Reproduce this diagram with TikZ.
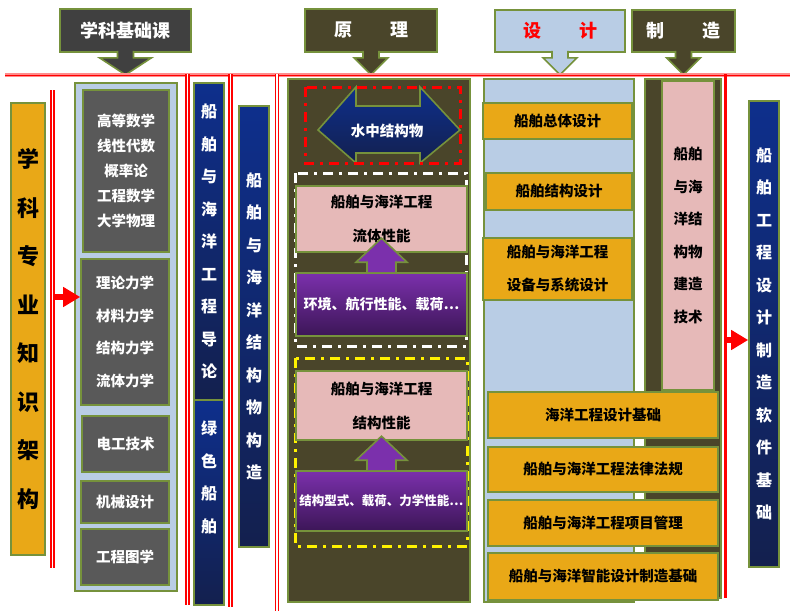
\documentclass[tikz,border=0pt]{standalone}
\usepackage{fontspec}
\setmainfont{Noto Sans CJK SC}
\usetikzlibrary{calc,arrows.meta}
\usepackage{xcolor}

\definecolor{olivebd}{HTML}{76923C}
\definecolor{darkol}{HTML}{4A452A}
\definecolor{hdgray}{HTML}{404040}
\definecolor{boxgray}{HTML}{595959}
\definecolor{lblue}{HTML}{B9CDE5}
\definecolor{orng}{HTML}{E9A817}
\definecolor{pinkb}{HTML}{E6B9B8}
\definecolor{navytop}{HTML}{0E2F8C}
\definecolor{navybot}{HTML}{13204E}
\definecolor{purtop}{HTML}{7B30AC}
\definecolor{purbot}{HTML}{3C1657}

\tikzset{
  box/.style={draw=olivebd, line width=1.6pt, inner sep=0pt, align=center},
  shp/.style={draw=olivebd, line width=1.6pt},
  hdbox/.style={box, text=white, font=\bfseries\fontsize{18}{20}\selectfont},
  graybox/.style={box, fill=boxgray, text=white, font=\bfseries\fontsize{14.5}{#1}\selectfont},
  graybox/.default=25,
  navybox/.style={box, top color=navytop, bottom color=navybot, text=white, font=\bfseries\fontsize{16}{32.5}\selectfont},
  orangebox/.style={box, fill=orng, text=black, font=\bfseries\fontsize{14.5}{33}\selectfont},
  pinkbox/.style={box, fill=pinkb, text=black, font=\bfseries\fontsize{14.5}{#1}\selectfont},
  pinkbox/.default=34,
  purplebox/.style={box, top color=purtop, bottom color=purbot, text=white, font=\bfseries\fontsize{14}{16}\selectfont},
  colbox/.style={box, fill=#1},
  redvline/.style={draw=red, line width=1.4pt, double=white, double distance=1.4pt},
  redarr/.style={red, line width=6.5pt, -{Triangle[length=17pt,width=19pt]}},
  dashdot/.style={line width=3pt, dash pattern=on 10pt off 6pt on 3pt off 6pt}
}

% arrow under a header box: node, fill, half width of head
\newcommand\hdarrow[3]{\draw[shp, fill=#2] ($(#1.south)+(-8,-2)$) -- ($(#1.south)+(-8,5)$) -- ($(#1.south)+(-#3,5)$) -- ($(#1.south)+(0,22)$) -- ($(#1.south)+(#3,5)$) -- ($(#1.south)+(8,5)$) -- ($(#1.south)+(8,-2)$);}
% purple arrow up out of a box
\newcommand\purarrow[1]{\draw[shp, fill=purtop] ($(#1.north)+(-14.5,0)$) -- ++(0,-10) -- ++(-11,0) -- ($(#1.north)+(0,-34)$) -- ($(#1.north)+(25.5,-10)$) -- ++(-11,0) -- ($(#1.north)+(14.5,0)$);}

\begin{document}
\begin{tikzpicture}[x=1pt,y=-1pt]
\useasboundingbox (0,0) rectangle (798,613);

% headers
\node[hdbox, fill=hdgray, minimum width=131pt, minimum height=43pt] (hdbase) at (125.5,30.5) {学科基础课};
\hdarrow{hdbase}{hdgray}{26}
\node[hdbox, fill=darkol, minimum width=132pt, minimum height=43pt] (hdprin) at (371,30.5) {原\hspace{38pt}理};
\hdarrow{hdprin}{darkol}{17}
\node[hdbox, fill=lblue, text=red, minimum width=130pt, minimum height=42pt] (hddes) at (560,31) {设\hspace{38pt}计};
\hdarrow{hddes}{lblue}{17}
\node[hdbox, fill=darkol, minimum width=103pt, minimum height=42pt] (hdman) at (683.5,31) {制\hspace{38pt}造};
\hdarrow{hdman}{darkol}{17}

% red rule
\draw[line width=4pt, red!45] (5,75) -- (790,75);
\draw[line width=1pt, red] (5,75) -- (790,75);

% left frame
\node[box, fill=orng, text=black, font=\bfseries\fontsize{22}{48.5}\selectfont, minimum width=34pt, minimum height=452pt] (frame) at (28,329) {学\\科\\专\\业\\知\\识\\架\\构};
\draw[redvline] (52.5,90) -- (52.5,568);

% basic courses
\node[colbox=lblue, minimum width=102pt, minimum height=508pt] (lcol) at (126,337) {};
\node[graybox, minimum width=86pt, minimum height=162pt] (math) at (126,171) {高等数学\\线性代数\\概率论\\工程数学\\大学物理};
\node[graybox=32.5, minimum width=88pt, minimum height=146pt] (mech) at (125,332) {理论力学\\材料力学\\结构力学\\流体力学};
\node[graybox, minimum width=87pt, minimum height=56pt] (elec) at (125.5,444) {电工技术};
\node[graybox, minimum width=88pt, minimum height=42pt] (mdes) at (125,502) {机械设计};
\node[graybox, minimum width=88pt, minimum height=56pt] (draw) at (125,557) {工程图学};

\coordinate (lrA) at (54,297);
\draw[redarr] (lrA) -- (lrA -| mech.west);

\draw[redvline] (187.5,74) -- (187.5,605);
\node[navybox, minimum width=30pt, minimum height=317pt] (intro) at (209,241.5) {船\\舶\\与\\海\\洋\\工\\程\\导\\论};
\node[navybox, minimum width=30pt, minimum height=205pt] (green) at (209,502.5) {};
\node[text=white, font=\bfseries\fontsize{16}{32.5}\selectfont, align=center] (greent) at ($(green.north)+(0,78)$) {绿\\色\\船\\舶};
\draw[redvline] (230.5,74) -- (230.5,607);
\node[navybox, minimum width=30pt, minimum height=441pt] (struct) at (254,326.5) {船\\舶\\与\\海\\洋\\结\\构\\物\\构\\造};
\draw[redvline] (277,74) -- (277,611);

% principles
\node[colbox=darkol, minimum width=182pt, minimum height=523pt] (prin) at (379,340.5) {};
\draw[shp, top color=navytop, bottom color=navybot] (318,130) -- (356,87) -- (356,106) -- (420,106) -- (420,87) -- (460,130) -- (420,163) -- (420,153) -- (356,153) -- (356,163) -- cycle;
\node[text=white, font=\bfseries\fontsize{14.5}{16}\selectfont] (water) at (387,131) {水中结构物};
\draw[dashdot, red] (305,87) rectangle (460,163);
\draw[dashdot, white] (295,173) rectangle (466,346);
\draw[dashdot, yellow] (295,358) rectangle (467,546);

\node[pinkbox, minimum width=171pt, minimum height=66pt] (flow) at (381.5,219) {船舶与海洋工程\\流体性能};
\node[purplebox, minimum width=171pt, minimum height=63pt] (flowin) at (381.5,304.5) {环境、航行性能、载荷…};
\purarrow{flowin}
\node[pinkbox, minimum width=171pt, minimum height=69pt] (strp) at (381.5,405.5) {船舶与海洋工程\\结构性能};
\node[purplebox, font=\bfseries\fontsize{12.5}{15}\selectfont, minimum width=171pt, minimum height=60pt] (strin) at (381.5,501) {结构型式、载荷、力学性能…};
\purarrow{strin}

% design and manufacture
\node[colbox=lblue, minimum width=150pt, minimum height=523pt] (dcol) at (559,340.5) {};
\node[colbox=darkol, minimum width=76pt, minimum height=519pt] (mcol) at (683,338.5) {};
\node[orangebox, minimum width=149pt, minimum height=36pt] (shipd) at (557.5,121) {船舶总体设计};
\node[orangebox, minimum width=146pt, minimum height=37pt] (strd) at (559,191.5) {船舶结构设计};
\node[orangebox, minimum width=149pt, minimum height=62pt] (equd) at (557.5,269) {船舶与海洋工程\\设备与系统设计};
\node[pinkbox=32.5, minimum width=52pt, minimum height=309pt] (build) at (688,235.5) {船舶\\与海\\洋结\\构物\\建造\\技术};
\node[orangebox, minimum width=230pt, minimum height=46pt] (offd) at (603,415) {海洋工程设计基础};
\node[orangebox, minimum width=230pt, minimum height=45pt] (law) at (603,469.5) {船舶与海洋工程法律法规};
\node[orangebox, minimum width=230pt, minimum height=46pt] (proj) at (603,523) {船舶与海洋工程项目管理};
\node[orangebox, minimum width=230pt, minimum height=47pt] (smart) at (603,576.5) {船舶与海洋智能设计制造基础};

\draw[line width=3pt, red] (725,74) -- (725,598);
\node[navybox, minimum width=30pt, minimum height=466pt] (soft) at (764,334) {船\\舶\\工\\程\\设\\计\\制\\造\\软\\件\\基\\础};
\coordinate (rrA) at (727,340);
\draw[redarr] (rrA) -- (rrA -| soft.west);
\end{tikzpicture}
\end{document}
